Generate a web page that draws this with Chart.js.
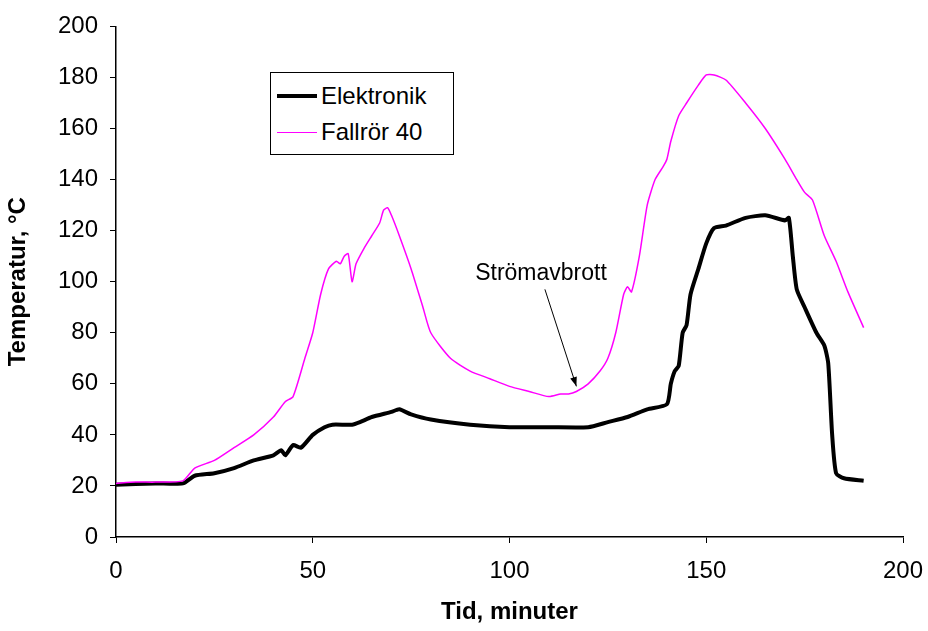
<!DOCTYPE html>
<html>
<head>
<meta charset="utf-8">
<script src="https://cdn.jsdelivr.net/npm/chart.js@4.4.1/dist/chart.umd.min.js"></script>
<style>
  body { margin: 0; background: #fff; }
  #wrap { position: relative; width: 928px; height: 631px; }
  #legend {
    position: absolute; left: 270px; top: 72px; width: 184px; height: 83px;
    border: 1.5px solid #000; background: #fff; box-sizing: border-box;
    font-family: "Liberation Sans", Arial, sans-serif; font-size: 24px;
  }
  .row { position: absolute; left: 6px; height: 30px; display: flex; align-items: center; }
  .sw { width: 40px; margin-right: 4px; }
</style>
</head>
<body>
<div id="wrap">
  <canvas id="chart" width="928" height="631"></canvas>
  <div id="legend">
    <div class="row" style="top:8px"><div class="sw" style="border-top:4px solid #000"></div>Elektronik</div>
    <div class="row" style="top:44px"><div class="sw" style="border-top:1.5px solid #ff00ff"></div>Fallrör 40</div>
  </div>
</div>
<script>
// Data
const fallTime = [0, 5, 10, 17, 20, 25, 30, 35, 40, 43, 45, 48, 50, 52, 54, 56, 57, 58, 59, 60, 61, 63, 65, 67, 68, 69, 70, 72, 75, 78, 80, 85, 90, 95, 100, 105, 110, 113, 115, 117, 120, 123, 125, 127, 129, 130, 131, 133, 135, 137, 139, 140, 141, 143, 145, 148, 150, 152, 155, 160, 165, 170, 173, 175, 177, 180, 183, 186, 190];
const fallTemp = [21, 21.5, 21.5, 22, 27, 30, 35, 40, 47, 53, 55, 70, 80, 95, 105, 108, 107, 110, 111, 100, 107, 113, 118, 123, 128, 129, 126, 118, 105, 90, 80, 70, 65, 62, 59, 57, 55, 56, 56, 57, 60, 65, 70, 80, 95, 98, 96, 110, 130, 140, 145, 148, 155, 165, 170, 177, 181, 181, 179, 170, 160, 148, 140, 135, 132, 118, 108, 96, 82];
const elekTime = [0, 10, 17, 20, 25, 30, 35, 40, 42, 43, 45, 47, 50, 53, 55, 60, 62, 65, 70, 72, 75, 80, 90, 100, 110, 120, 125, 130, 135, 140, 141, 142, 143, 144, 145, 146, 148, 150, 152, 155, 160, 165, 170, 171, 172, 173, 175, 178, 180, 181, 182, 183, 185, 190];
const elekTemp = [20.5, 21, 21, 24, 25, 27, 30, 32, 34, 32, 36, 35, 40, 43, 44, 44, 45, 47, 49, 50, 48, 46, 44, 43, 43, 43, 45, 47, 50, 52, 60, 65, 67, 80, 83, 95, 105, 115, 121, 122, 125, 126, 124, 125, 110, 97, 90, 80, 75, 68, 40, 25, 23, 22];
const xTicks = [0, 50, 100, 150, 200];
const yTicks = [0, 20, 40, 60, 80, 100, 120, 140, 160, 180, 200];

const FONT = '"Liberation Sans", Arial, sans-serif';

function pts(xs, ys) {
    return xs.map((x, i) => ({ x: x, y: ys[i] }));
}

// Draw the "Strömavbrott" note with an arrow
const notePlugin = {
    id: 'note',
    afterDatasetsDraw(chart) {
        const ctx = chart.ctx;
        const xs = chart.scales.x, ys = chart.scales.y;
        const tx = xs.getPixelForValue(108), ty = ys.getPixelForValue(103);
        const ax = xs.getPixelForValue(117), ay = ys.getPixelForValue(59);
        ctx.save();
        ctx.font = '23px ' + FONT;
        ctx.fillStyle = '#000';
        ctx.textAlign = 'center';
        ctx.textBaseline = 'middle';
        ctx.fillText('Strömavbrott', tx, ty);
        const sx = xs.getPixelForValue(109), sy = ys.getPixelForValue(97);
        ctx.strokeStyle = '#000';
        ctx.lineWidth = 1;
        ctx.beginPath();
        ctx.moveTo(sx, sy);
        ctx.lineTo(ax, ay);
        ctx.stroke();
        const ang = Math.atan2(ay - sy, ax - sx);
        ctx.beginPath();
        ctx.moveTo(ax, ay);
        ctx.lineTo(ax - 10 * Math.cos(ang - 0.35), ay - 10 * Math.sin(ang - 0.35));
        ctx.lineTo(ax - 10 * Math.cos(ang + 0.35), ay - 10 * Math.sin(ang + 0.35));
        ctx.closePath();
        ctx.fill();
        ctx.restore();
    }
};

new Chart(document.getElementById('chart'), {
    type: 'line',
    data: {
        datasets: [
            {
                label: 'Fallrör 40',
                data: pts(fallTime, fallTemp),
                borderColor: '#ff00ff',
                borderWidth: 1.5,
                pointRadius: 0,
                tension: 0.2
            },
            {
                label: 'Elektronik',
                data: pts(elekTime, elekTemp),
                borderColor: '#000',
                borderWidth: 4,
                pointRadius: 0,
                tension: 0.2
            }
        ]
    },
    options: {
        responsive: false,
        animation: false,
        layout: { padding: { top: 26, right: 25, bottom: 0 } },
        plugins: { legend: { display: false }, tooltip: { enabled: false } },
        scales: {
            x: {
                type: 'linear', min: 0, max: 200,
                afterBuildTicks: (s) => { s.ticks = xTicks.map(v => ({ value: v })); },
                afterFit: (s) => { s.height = 94; s.paddingRight = 0; s.paddingLeft = 0; },
                grid: { drawOnChartArea: false, color: '#000', tickLength: 6 },
                border: { color: '#000', width: 1.5 },
                ticks: { color: '#000', font: { family: FONT, size: 24 }, padding: 14 },
                title: { display: true, text: 'Tid, minuter', color: '#000', font: { family: FONT, size: 24, weight: 'bold' }, padding: { top: 0 } }
            },
            y: {
                min: 0, max: 200,
                afterBuildTicks: (s) => { s.ticks = yTicks.map(v => ({ value: v })); },
                afterFit: (s) => { s.width = 116; },
                grid: { drawOnChartArea: false, color: '#000', tickLength: 6 },
                border: { color: '#000', width: 1.5 },
                ticks: { color: '#000', font: { family: FONT, size: 24 }, padding: 12 },
                title: { display: true, text: 'Temperatur, °C', color: '#000', font: { family: FONT, size: 24, weight: 'bold' }, padding: { bottom: 4 } }
            }
        }
    },
    plugins: [notePlugin]
});
</script>
</body>
</html>
